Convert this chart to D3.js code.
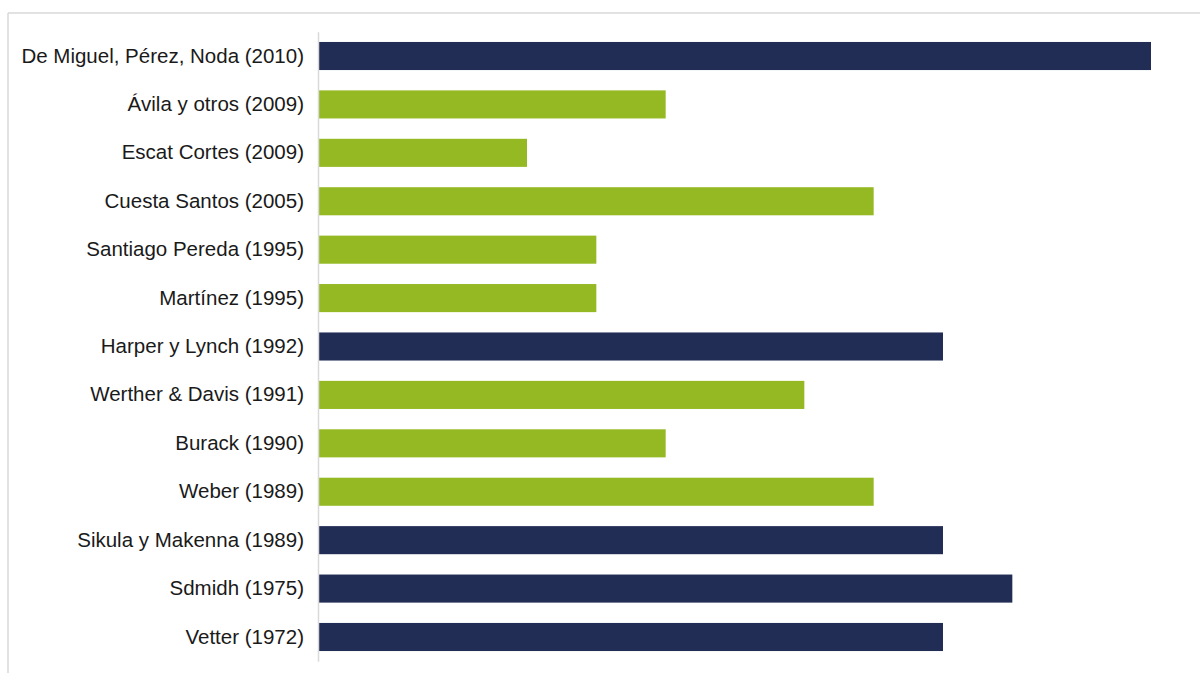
<!DOCTYPE html>
<html><head><meta charset="utf-8">
<script src="https://cdn.jsdelivr.net/npm/d3@7/dist/d3.min.js"></script>
<style>body{margin:0;background:#fff;} svg{display:block;}</style>
</head><body>
<script>
const categories = ["De Miguel, Pérez, Noda (2010)","Ávila y otros (2009)","Escat Cortes (2009)","Cuesta Santos (2005)","Santiago Pereda (1995)","Martínez (1995)","Harper y Lynch (1992)","Werther & Davis (1991)","Burack (1990)","Weber (1989)","Sikula y Makenna (1989)","Sdmidh (1975)","Vetter (1972)"];
const values = [12,5,3,8,4,4,9,7,5,8,9,10,9];
const groups = ["dark","green","green","green","green","green","dark","green","green","green","dark","dark","dark"];

const W = 1200, H = 673;
const svg = d3.select("body").append("svg").attr("width", W).attr("height", H);
// frame
svg.append("line").attr("x1",8).attr("x2",W).attr("y1",13).attr("y2",13).attr("stroke","#d9d9d9").attr("stroke-width",1.5);
svg.append("line").attr("x1",8).attr("x2",8).attr("y1",13).attr("y2",H).attr("stroke","#d9d9d9").attr("stroke-width",1.5);

const x = d3.scaleLinear().domain([0,12]).range([319,1151]);
const y = d3.scaleBand().domain(categories).range([31.8,661.2]).paddingInner(0.42).paddingOuter(0.21);
const color = d3.scaleOrdinal().domain(["dark","green"]).range(["#222d55","#94b922"]);

svg.selectAll("rect.bar").data(categories).enter().append("rect")
  .attr("class","bar")
  .attr("x", x(0))
  .attr("y", d => y(d))
  .attr("height", y.bandwidth())
  .attr("width", (d,i) => x(values[i]) - x(0))
  .attr("fill", (d,i) => color(groups[i]));

const ax = svg.append("g").attr("transform","translate(318,0)")
  .call(d3.axisLeft(y).tickSize(0).tickPadding(14));
ax.select(".domain").attr("stroke","#d9d9d9").attr("stroke-width",1.5);
ax.selectAll("text").attr("font-family","'Liberation Sans', Arial, sans-serif").attr("font-size",20.5).attr("fill","#1a1a1a");
</script>
</body></html>
